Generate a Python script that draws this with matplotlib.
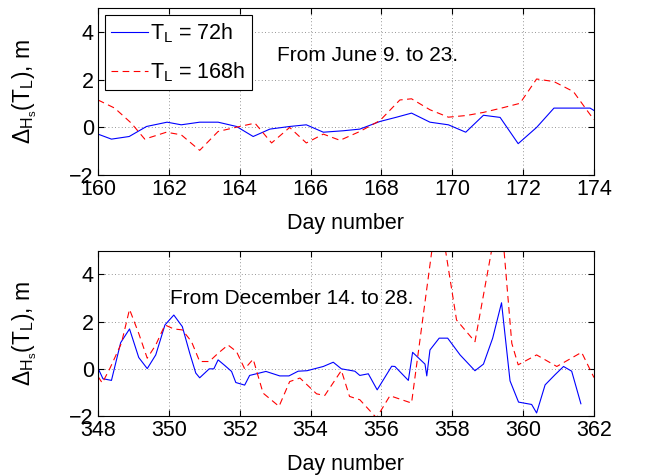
import numpy as np
import matplotlib.pyplot as plt

plt.rcParams['font.family'] = ['Liberation Sans', 'DejaVu Sans']
plt.rcParams['mathtext.fontset'] = 'custom'
plt.rcParams['mathtext.rm'] = 'Liberation Sans'
plt.rcParams['mathtext.it'] = 'Liberation Sans'

# June: days 160-174
jun_day_72 = [160.0, 160.38, 160.88, 161.37, 161.95, 162.35, 162.87, 163.39, 163.91,
              164.38, 164.85, 165.41, 165.88, 166.36, 166.92, 167.39, 167.96, 168.43,
              168.85, 169.37, 169.89, 170.38, 170.88, 171.35, 171.86, 172.38, 172.87,
              173.89, 174.0]
jun_val_72 = [-0.28, -0.49, -0.38, 0.04, 0.22, 0.11, 0.22, 0.22, 0.04,
              -0.38, -0.07, 0.04, 0.11, -0.2, -0.14, -0.07, 0.25, 0.43,
              0.6, 0.22, 0.11, -0.2, 0.51, 0.42, -0.68, 0.0, 0.81,
              0.81, 0.71]
jun_day_168 = [160.0, 160.47, 160.94, 161.32, 161.93, 162.35, 162.87, 163.39, 163.91,
               164.43, 164.9, 165.41, 165.88, 166.36, 166.83, 167.39, 167.96, 168.52,
               168.85, 169.37, 169.89, 170.4, 170.88, 171.44, 171.91, 172.38, 172.87,
               173.42, 173.79, 174.0]
jun_val_168 = [1.15, 0.81, 0.18, -0.49, -0.2, -0.31, -0.96, -0.17, 0.01,
               0.18, -0.65, 0.0, -0.65, -0.28, -0.54, -0.17, 0.29, 1.15,
               1.2, 0.74, 0.43, 0.5, 0.63, 0.83, 1.01, 2.03, 1.92,
               1.5, 0.74, 0.32]

# December: days 348-362
dec_day_72 = [348.0, 348.14, 348.38, 348.64, 348.89, 349.15, 349.39, 349.63, 349.89,
              350.14, 350.38, 350.59, 350.76, 350.87, 351.14, 351.27, 351.39, 351.58,
              351.77, 351.89, 352.14, 352.28, 352.74, 353.13, 353.39, 353.65, 353.9,
              354.36, 354.64, 354.87, 355.25, 355.39, 355.63, 355.88, 356.29, 356.38,
              356.76, 356.88, 357.23, 357.28, 357.37, 357.63, 357.87, 358.22, 358.64,
              358.88, 359.14, 359.39, 359.63, 359.87, 360.24, 360.38, 360.62, 360.9,
              361.14, 361.37, 361.63]
dec_val_72 = [0.03, -0.42, -0.49, 1.11, 1.69, 0.48, 0.01, 0.59, 1.86,
              2.28, 1.79, 0.66, -0.18, -0.38, 0.0, 0.0, 0.38, 0.14,
              -0.11, -0.58, -0.69, -0.28, -0.11, -0.3, -0.3, -0.1, -0.08,
              0.1, 0.28, 0.0, -0.1, -0.28, -0.21, -0.89, 0.11, 0.1,
              -0.49, 0.7, 0.2, -0.3, 0.8, 1.3, 1.3, 0.59, -0.08,
              0.2, 1.3, 2.8, -0.51, -1.41, -1.51, -1.87, -0.68, -0.25,
              0.1, -0.1, -1.48]
dec_day_168 = [348.0, 348.12, 348.33, 348.66, 348.89, 349.15, 349.39, 349.63, 349.89,
               350.14, 350.38, 350.64, 350.87, 351.14, 351.39, 351.67, 351.91, 352.14,
               352.38, 352.66, 353.11, 353.41, 353.7, 354.17, 354.4, 354.87, 355.1,
               355.39, 355.86, 356.24, 356.85, 357.6, 358.12, 358.64, 359.35, 359.68,
               359.86, 360.38, 360.95, 361.65, 362.0]
dec_val_168 = [-0.32, -0.6, 0.0, 1.08, 2.52, 1.5, 0.45, 1.01, 1.86,
               1.69, 1.65, 1.15, 0.31, 0.31, 0.66, 1.01, 0.73, 0.0,
               0.41, -1.03, -1.59, -0.54, -0.39, -1.06, -1.13, -0.07, -1.17,
               -1.31, -2.08, -1.14, -1.45, 7.0, 2.07, 1.15, 7.0, 1.08,
               0.17, 0.59, 0.1, 0.7, -0.37]

fig = plt.figure(figsize=(6.46, 4.76), dpi=100)
ax1 = fig.add_axes([0.1517, 0.632, 0.7678, 0.351])
ax2 = fig.add_axes([0.1517, 0.126, 0.7678, 0.347])

panels = [
    (ax1, jun_day_72, jun_val_72, jun_day_168, jun_val_168, 160, 5.05, 'From June 9. to 23.'),
    (ax2, dec_day_72, dec_val_72, dec_day_168, dec_val_168, 348, 2.03, 'From December 14. to 28.'),
]

fs = 15.5
for ax, d72, v72, d168, v168, x0, tx, txt in panels:
    ax.plot(d72, v72, color='blue', lw=0.8, label=r'$\mathregular{T_L}$ = 72h')
    ax.plot(d168, v168, color='red', lw=0.8, dashes=(6, 4),
            label=r'$\mathregular{T_L}$ = 168h')
    ax.set_xlim(x0, x0 + 14)
    ax.set_ylim(-2, 5)
    ax.set_xticks(np.arange(x0, x0 + 15, 2))
    ax.set_yticks([-2, 0, 2, 4])
    ax.grid(True, color='0.45', linestyle=(0, (1, 3)), linewidth=0.6)
    ax.tick_params(direction='in', top=True, right=True, labelsize=fs, length=4, pad=3)
    ax.set_xlabel('Day number', fontsize=fs, labelpad=9)
    ax.set_ylabel(r'$\mathregular{\Delta_{H_s}(T_L)}$, m', fontsize=fs + 1, labelpad=22)
    ax.text(x0 + tx, 3.0, txt, fontsize=15, va='center', ha='left')
    for s in ax.spines.values():
        s.set_linewidth(0.8)

leg = ax1.legend(loc='upper left', bbox_to_anchor=(0.014, 0.958), borderaxespad=0,
                 fancybox=False, framealpha=1, edgecolor='black', fontsize=fs,
                 handlelength=1.7, handletextpad=0.1, borderpad=0.3, labelspacing=0.7)
leg.get_frame().set_linewidth(0.8)

fig.savefig('out.png', dpi=100)
